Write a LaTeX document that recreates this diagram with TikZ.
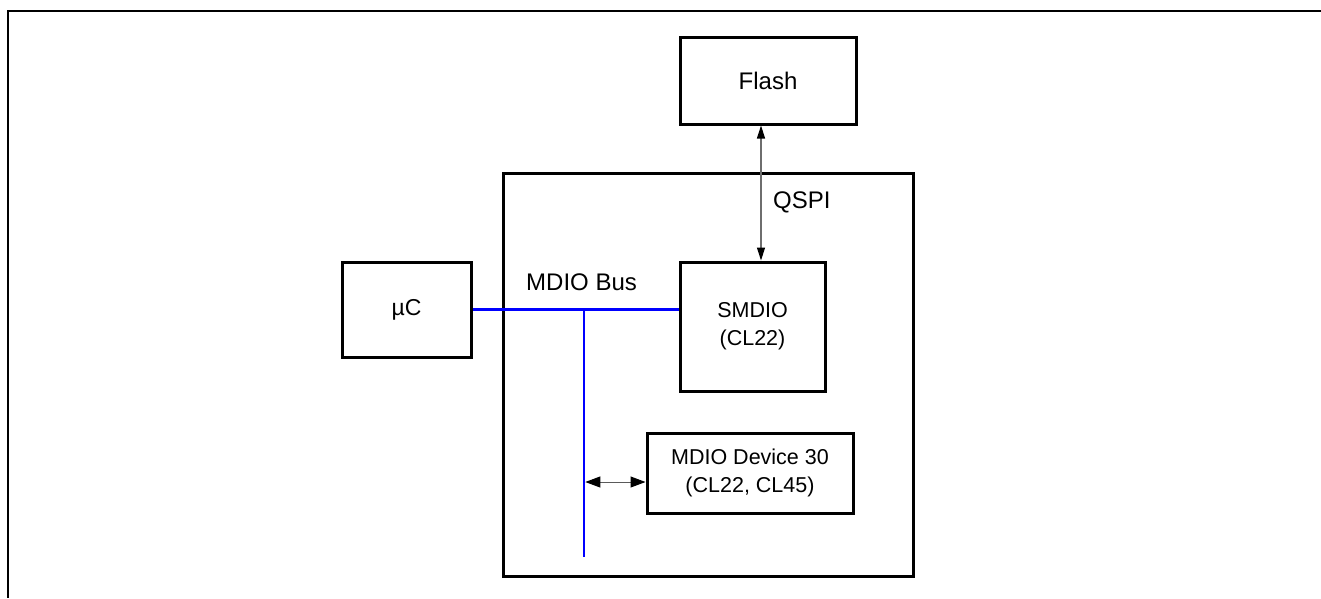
\documentclass[tikz,border=0pt]{standalone}
\usepackage{fontspec}
\setmainfont{Liberation Sans}
\usetikzlibrary{arrows.meta}
\begin{document}
\begin{tikzpicture}[x=1pt,y=-1pt,
  blk/.style={draw=black, line width=3pt, inner sep=0pt, align=center, fill=white},
  bus/.style={draw={rgb,255:red,0;green,0;blue,255}, line width=2.6pt},
  qarrow/.style={draw={rgb,255:red,110;green,110;blue,110}, line width=1.2pt,
     {Triangle[length=13pt,width=8pt,fill=black,color=black]}-{Triangle[length=13pt,width=8pt,fill=black,color=black]}},
  darrow/.style={draw={rgb,255:red,90;green,90;blue,90}, line width=1pt,
     {Triangle[length=15pt,width=11pt,fill=black,color=black]}-{Triangle[length=15pt,width=11pt,fill=black,color=black]}},
  lbl/.style={inner sep=0pt, font=\fontsize{24}{29}\selectfont},
  btxt/.style={font=\fontsize{21.5}{28}\selectfont}
]
\useasboundingbox (0,0) rectangle (1321,598);
% frame
\coordinate (fr1) at (1321,11);
\coordinate (fr2) at (8,11);
\coordinate (fr3) at (8,598);
\draw[line width=2pt] (fr1) -- (fr2) -- (fr3);

% blocks
\node[blk, minimum width=410pt, minimum height=403pt] (chip) at (708,374.5) {};
\node[blk, btxt, font=\fontsize{24}{29}\selectfont, minimum width=176pt, minimum height=87pt] (flash) at (768,80.5) {Flash};
\node[blk, btxt, font=\fontsize{23}{28}\selectfont, minimum width=129pt, minimum height=95pt] (uc) at (406.5,309.5) {µC};
\node[blk, btxt, minimum width=145pt, minimum height=129pt] (smdio) at (752.5,326.5) {SMDIO\\(CL22)};
\node[blk, btxt, minimum width=206pt, minimum height=80pt] (dev) at (750,473) {MDIO Device 30\\(CL22, CL45)};

% bus
\coordinate (tee) at (584,309.5);
\coordinate (busend) at (584,557);
\draw[bus] (uc.east) -- (uc.east -| smdio.west);
\draw[bus] (tee) -- (busend);

% device arrow
\coordinate (devl) at (585.3,482);
\draw[darrow] (devl) -- (devl -| dev.west);

% qspi arrow
\coordinate (qtop) at (761,0);
\draw[qarrow] (qtop |- flash.south) -- (qtop |- smdio.north);

% labels
\node[lbl, anchor=base west] (qspi) at (773,208) {QSPI};
\node[lbl, anchor=base west] (mdiobus) at (526,290) {MDIO Bus};
\end{tikzpicture}
\end{document}
